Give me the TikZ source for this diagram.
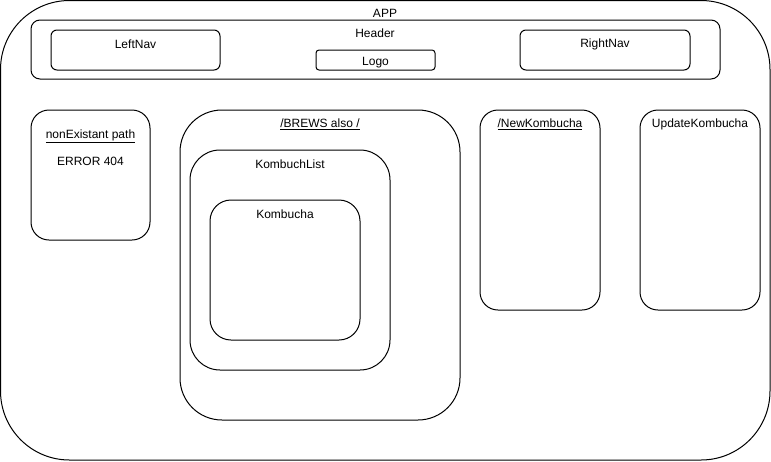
\documentclass[tikz,border=0pt]{standalone}
\usepackage{fontspec}
\setmainfont{Liberation Sans}
\begin{document}
\begin{tikzpicture}[x=1pt,y=-1pt,
  box/.style={draw=black,line width=1pt,rounded corners=#1,inner sep=0pt,fill=none},
  lbl/.style={font=\fontsize{12}{14}\selectfont,inner sep=0pt,anchor=center}]
\useasboundingbox (0,0) rectangle (771,461);
% boxes drawn as paths from corner to corner
\draw[box=69] (0.5,0.5) rectangle (770,460) coordinate (appse);
\node[lbl] (applbl) at (385,13) {APP};
\draw[box=9] (31,20) rectangle (720,79);
\node[lbl] (hdrlbl) at (375,33) {Header};
\draw[box=6] (51,30) rectangle (220,70);
\node[lbl] (leftnav) at (135.5,44) {LeftNav};
\draw[box=3] (316,50) rectangle (435,70);
\node[lbl] (logo) at (375.5,63) {Logo};
\draw[box=6] (520,30) rectangle (690,70);
\node[lbl] (rightnav) at (605,44) {RightNav};
\draw[box=18] (31,110) rectangle (150,240);
\node[lbl] (nonex) at (90.5,136) {\underline{nonExistant path}};
\node[lbl] (err) at (90.5,161) {ERROR 404};
\draw[box=42] (180,110) rectangle (460,420);
\node[lbl] (brews) at (320,124) {\underline{/BREWS also /}};
\draw[box=30] (190,150) rectangle (390,370);
\node[lbl] (klist) at (290,164) {KombuchList};
\draw[box=21] (210,200) rectangle (360,340);
\node[lbl] (komb) at (285,214) {Kombucha};
\draw[box=18] (480,110) rectangle (600,310);
\node[lbl] (newk) at (540,124) {\underline{/NewKombucha}};
\draw[box=18] (640,110) rectangle (760,310);
\node[lbl] (updk) at (700,124) {UpdateKombucha};
\end{tikzpicture}
\end{document}
